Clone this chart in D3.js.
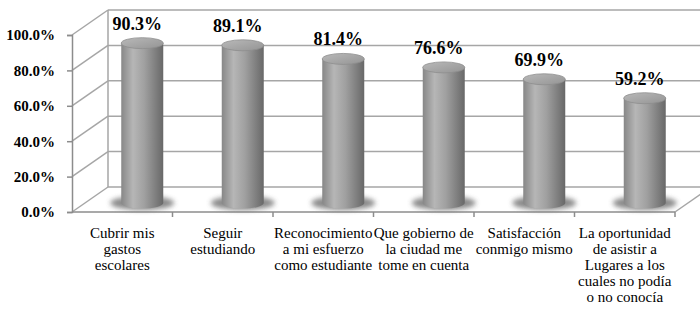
<!DOCTYPE html>
<html lang="es">
	<head>
		<meta charset="utf-8">
		<title>Cilindros</title>
		<script type="text/javascript" src="https://cdn.jsdelivr.net/npm/d3@7"></script>
		<style type="text/css">
			body{
				margin:0;
				background-color:white;
			}
		</style>
	</head>
	<body>
	<div class="chart"></div>
	<script type="text/javascript">
	// datos
	var categories = ['Cubrir mis gastos escolares', 'Seguir estudiando', 'Reconocimiento a mi esfuerzo como estudiante',
		'Que gobierno de la ciudad me tome en cuenta', 'Satisfacción conmigo mismo',
		'La oportunidad de asistir a Lugares a los cuales no podía o no conocía'];
	var categoryLines = [
		['Cubrir mis', 'gastos', 'escolares'],
		['Seguir', 'estudiando'],
		['Reconocimiento', 'a mi esfuerzo', 'como estudiante'],
		['Que gobierno de', 'la ciudad me', 'tome en cuenta'],
		['Satisfacción', 'conmigo mismo'],
		['La oportunidad', 'de asistir a', 'Lugares a los', 'cuales no podía', 'o no conocía']
	];
	var values = [0.903, 0.891, 0.814, 0.766, 0.699, 0.592];
	var yTicks = [0, 0.2, 0.4, 0.6, 0.8, 1.0];

	var width = 700, height = 310;
	var depthX = 36, depthY = -25;
	var serif = "'Liberation Serif', 'Times New Roman', serif";

	var svg = d3.select('.chart')
				.append('svg')
				.attr('width', width)
				.attr('height', height)
				.style('font-family', serif);

	var x = d3.scaleBand()
			.domain(categories)
			.range([72, 675]);
	var y = d3.scaleLinear()
			.domain([0, 1])
			.range([212, 35]);
	var fmt = d3.format('.1%');

	var defs = svg.append('defs');
	var cylGrad = defs.append('linearGradient')
				.attr('id', 'cyl')
				.attr('x1', '0%').attr('x2', '100%');
	[['0%', '#878787'], ['28%', '#b6b6b6'], ['55%', '#a0a0a0'], ['100%', '#686868']].forEach(function(s) {
		cylGrad.append('stop').attr('offset', s[0]).attr('stop-color', s[1]);
	});
	var topGrad = defs.append('linearGradient')
				.attr('id', 'cyltop')
				.attr('x1', '0%').attr('x2', '100%').attr('y1', '0%').attr('y2', '100%');
	[['0%', '#b9b9b9'], ['100%', '#949494']].forEach(function(s) {
		topGrad.append('stop').attr('offset', s[0]).attr('stop-color', s[1]);
	});
	defs.append('filter')
		.attr('id', 'blur')
		.attr('x', '-30%').attr('y', '-60%').attr('width', '160%').attr('height', '220%')
		.append('feGaussianBlur')
		.attr('stdDeviation', 2.8);

	var x0 = x.range()[0], x1 = x.range()[1];
	var grid = svg.append('g')
				.attr('stroke', '#a6a6a6')
				.attr('stroke-width', 1.5)
				.attr('fill', 'none');

	// pared de fondo
	grid.selectAll('.back')
		.data(yTicks).enter()
		.append('line')
		.attr('x1', x0 + depthX)
		.attr('x2', width + 20)
		.attr('y1', function(d) { return y(d) + depthY; })
		.attr('y2', function(d) { return y(d) + depthY; });
	// pared izquierda
	grid.selectAll('.side')
		.data(yTicks).enter()
		.append('line')
		.attr('x1', x0)
		.attr('x2', x0 + depthX)
		.attr('y1', function(d) { return y(d); })
		.attr('y2', function(d) { return y(d) + depthY; });
	grid.append('line')
		.attr('x1', x0 + depthX).attr('x2', x0 + depthX)
		.attr('y1', y(1) + depthY).attr('y2', y(0) + depthY);
	// piso, lado derecho
	grid.append('line')
		.attr('x1', x1).attr('x2', x1 + depthX)
		.attr('y1', y(0)).attr('y2', y(0) + depthY);

	// eje y
	var yAxis = svg.append('g')
				.attr('transform', 'translate(' + x0 + ',0)')
				.call(d3.axisLeft(y).tickValues(yTicks).tickFormat(fmt).tickSize(5).tickPadding(12));
	yAxis.attr('font-family', null).attr('font-size', null);
	yAxis.selectAll('path, line').attr('stroke', '#8c8c8c').attr('stroke-width', 1.5);
	yAxis.selectAll('text')
		.style('font-family', serif)
		.style('font-weight', 'bold')
		.style('font-size', '15px')
		.attr('fill', '#000');

	// eje x
	var xAxis = svg.append('g')
				.attr('transform', 'translate(0,' + y(0) + ')');
	xAxis.append('line')
		.attr('x1', x0).attr('x2', x1)
		.attr('stroke', '#8c8c8c').attr('stroke-width', 1.5);
	xAxis.selectAll('.xt')
		.data(categories).enter()
		.append('line')
		.attr('x1', function(d) { return x(d) + x.bandwidth(); })
		.attr('x2', function(d) { return x(d) + x.bandwidth(); })
		.attr('y1', 0).attr('y2', 5)
		.attr('stroke', '#8c8c8c').attr('stroke-width', 1.5);

	var labels = svg.selectAll('.cat')
				.data(categories).enter()
				.append('text')
				.style('font-family', serif)
				.style('font-size', '15px')
				.attr('text-anchor', 'middle');
	labels.each(function(d, i) {
		var t = d3.select(this);
		categoryLines[i].forEach(function(line, j) {
			t.append('tspan')
				.attr('x', x(d) + x.bandwidth() / 2)
				.attr('y', 238 + j * 16)
				.text(line);
		});
	});

	// cilindros
	var rx = 21, ry = 5.5;
	var cx = function(d) { return x(d) + x.bandwidth() / 2 + 20; };
	var baseY = y(0) - 9;
	var bars = svg.selectAll('.bar')
				.data(categories).enter()
				.append('g');
	bars.append('ellipse')
		.attr('cx', cx)
		.attr('cy', baseY)
		.attr('rx', 32)
		.attr('ry', 7)
		.attr('fill', '#6e6e6e')
		.attr('opacity', 0.8)
		.attr('filter', 'url(#blur)');
	bars.append('path')
		.attr('fill', 'url(#cyl)')
		.attr('d', function(d, i) {
			var c = cx(d), t = y(values[i]) - 9;
			return 'M' + (c - rx) + ',' + t + 'L' + (c - rx) + ',' + baseY +
				'A' + rx + ',' + ry + ' 0 0 0 ' + (c + rx) + ',' + baseY +
				'L' + (c + rx) + ',' + t + 'Z';
		});
	bars.append('ellipse')
		.attr('cx', cx)
		.attr('cy', function(d, i) { return y(values[i]) - 9; })
		.attr('rx', rx)
		.attr('ry', ry)
		.attr('fill', 'url(#cyltop)')
		.attr('stroke', '#8e8e8e')
		.attr('stroke-width', 0.8);
	bars.append('text')
		.style('font-family', serif)
		.style('font-weight', 'bold')
		.style('font-size', '18px')
		.attr('text-anchor', 'middle')
		.attr('x', function(d) { return cx(d) - 5; })
		.attr('y', function(d, i) { return y(values[i]) - 9 - ry - 8; })
		.text(function(d, i) { return fmt(values[i]); });
	</script>
	</body>
</html>
